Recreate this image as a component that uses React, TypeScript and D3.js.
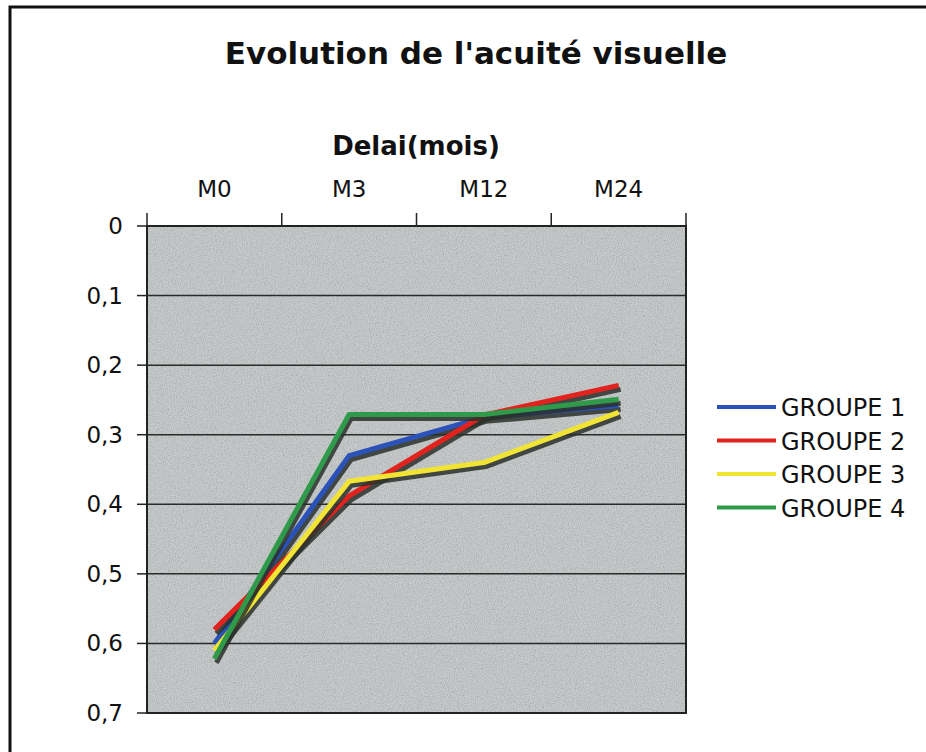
import * as d3 from 'd3';
import { type FC } from 'react';

// Data
const categories = ['M0', 'M3', 'M12', 'M24'];
const groupe1 = [0.6, 0.33, 0.275, 0.258];
const groupe2 = [0.58, 0.388, 0.272, 0.229];
const groupe3 = [0.61, 0.367, 0.34, 0.268];
const groupe4 = [0.622, 0.271, 0.271, 0.249];
const seriesNames = ['GROUPE 1', 'GROUPE 2', 'GROUPE 3', 'GROUPE 4'];
const seriesColors = ['#2b52b8', '#e1221d', '#f2e433', '#2f9b4a'];
const yTicks = [0, 0.1, 0.2, 0.3, 0.4, 0.5, 0.6, 0.7];

const W = 926;
const H = 752;
const plot = { left: 147, right: 686, top: 226, bottom: 713 };
const font = "'DejaVu Sans', Verdana, sans-serif";

const App: FC = () => {
  const series = [groupe1, groupe2, groupe3, groupe4];

  const x = d3
    .scaleBand<string>()
    .domain(categories)
    .range([plot.left, plot.right]);

  const y = d3
    .scaleLinear()
    .domain([0, 0.7])
    .range([plot.top, plot.bottom]);

  const line = d3
    .line<number>()
    .x((_, i) => (x(categories[i]) ?? 0) + x.bandwidth() / 2)
    .y((d) => y(d));

  const fmt = (v: number) => (v === 0 ? '0' : d3.format('.1f')(v).replace('.', ','));

  const bandEdges = categories.map((c) => x(c) ?? 0).concat([plot.right]);
  const pw = plot.right - plot.left;
  const ph = plot.bottom - plot.top;

  return (
    <svg
      width={W}
      height={H}
      style={{ position: 'absolute', left: 0, top: 0, background: '#fff' }}
    >
      <defs>
        <filter id="noise" x="0" y="0" width="100%" height="100%">
          <feTurbulence type="fractalNoise" baseFrequency="0.85" numOctaves="2" seed="3" />
          <feColorMatrix
            type="matrix"
            values="1 0 0 0 0  1 0 0 0 0  1 0 0 0 0  0 0 0 0 1"
          />
        </filter>
        <clipPath id="plotClip">
          <rect x={plot.left} y={plot.top} width={pw} height={ph} />
        </clipPath>
      </defs>

      {/* outer frame */}
      <rect x={10} y={7} width={W + 20} height={H + 20} fill="none" stroke="#111" strokeWidth={3} />

      {/* titles */}
      <text x={476} y={64} textAnchor="middle" fontFamily={font} fontWeight="bold" fontSize={31} fill="#111">
        Evolution de l'acuité visuelle
      </text>
      <text x={416} y={155} textAnchor="middle" fontFamily={font} fontWeight="bold" fontSize={26} fill="#111">
        Delai(mois)
      </text>

      {/* plot background with grain */}
      <rect x={plot.left} y={plot.top} width={pw} height={ph} fill="#c2c7c8" />
      <rect
        x={plot.left}
        y={plot.top}
        width={pw}
        height={ph}
        filter="url(#noise)"
        opacity={0.3}
      />

      {/* gridlines */}
      {yTicks.map((t) => (
        <line key={t} x1={plot.left} x2={plot.right} y1={y(t)} y2={y(t)} stroke="#2a2a2a" strokeWidth={1.5} />
      ))}

      {/* plot border */}
      <rect x={plot.left} y={plot.top} width={pw} height={ph} fill="none" stroke="#222" strokeWidth={2} />

      {/* y axis ticks & labels */}
      {yTicks.map((t) => (
        <g key={`yt${t}`}>
          <line x1={137} x2={plot.left} y1={y(t)} y2={y(t)} stroke="#222" strokeWidth={1.5} />
          <text x={123} y={y(t) + 8} textAnchor="end" fontFamily={font} fontSize={23} fill="#111">
            {fmt(t)}
          </text>
        </g>
      ))}

      {/* x axis ticks (top) & labels */}
      {bandEdges.map((bx, i) => (
        <line key={`xt${i}`} x1={bx} x2={bx} y1={213} y2={plot.top} stroke="#222" strokeWidth={1.5} />
      ))}
      {categories.map((c) => (
        <text
          key={c}
          x={(x(c) ?? 0) + x.bandwidth() / 2}
          y={197}
          textAnchor="middle"
          fontFamily={font}
          fontSize={23}
          fill="#111"
        >
          {c}
        </text>
      ))}

      {/* series with drop shadows */}
      <g clipPath="url(#plotClip)">
        {series.map((s, i) => (
          <g key={seriesNames[i]}>
            <path
              d={line(s) ?? ''}
              transform="translate(2,4)"
              fill="none"
              stroke="#2a302c"
              strokeWidth={5}
              strokeLinejoin="round"
              opacity={0.85}
            />
            <path
              d={line(s) ?? ''}
              fill="none"
              stroke={seriesColors[i]}
              strokeWidth={5}
              strokeLinejoin="round"
            />
          </g>
        ))}
      </g>

      {/* legend */}
      {seriesNames.map((n, i) => {
        const ly = 407 + i * 33.5;
        return (
          <g key={`lg${n}`}>
            <line x1={717} x2={776} y1={ly} y2={ly} stroke={seriesColors[i]} strokeWidth={4} />
            <text x={781} y={ly + 9} fontFamily={font} fontSize={24} fill="#111">
              {n}
            </text>
          </g>
        );
      })}
    </svg>
  );
};

export default App;
